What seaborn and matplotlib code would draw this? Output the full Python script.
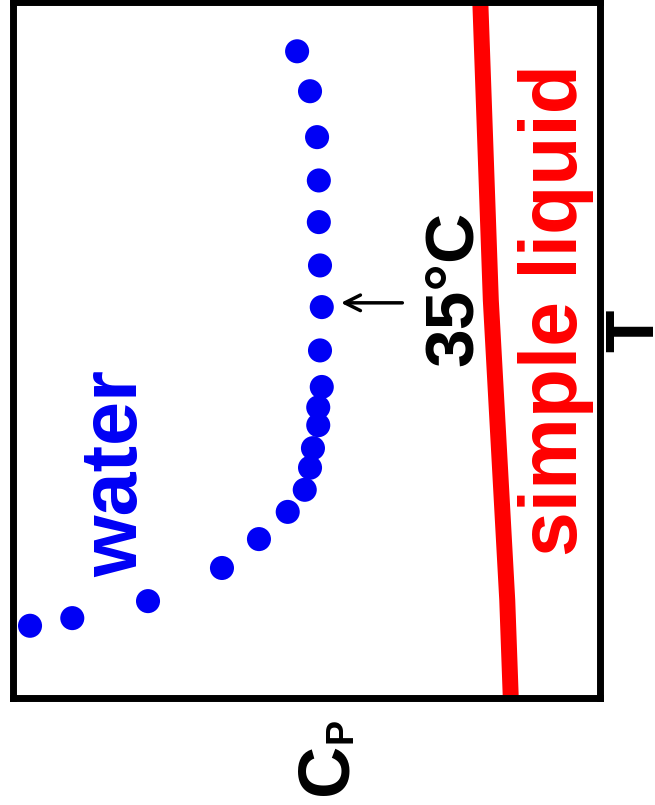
import matplotlib
matplotlib.use("Agg")
import matplotlib.pyplot as plt
import seaborn as sns
import pandas as pd

# water heat capacity points (T in degC, Cp in arbitrary units)
water_T = [65.1, 60.4, 55.0, 49.9, 45.0, 39.9, 35.0, 29.9, 25.6, 23.2,
           21.1, 18.4, 16.1, 13.5, 10.9, 7.7, 4.3, 0.4, -1.6, -2.5]
water_cp = [5.16, 4.94, 4.82, 4.79, 4.79, 4.77, 4.74, 4.77, 4.74, 4.80,
            4.80, 4.89, 4.94, 5.03, 5.32, 5.81, 6.44, 7.70, 8.99, 9.71]

# simple liquid reference line
simple_T = [-11.0, 0.5, 35.8, 71.1]
simple_cp = [1.52, 1.58, 1.86, 2.04]

water = pd.DataFrame({"T": water_T, "Cp": water_cp})
simple = pd.DataFrame({"T": simple_T, "Cp": simple_cp})

sns.set_theme(style="white")
plt.rcParams["font.family"] = ["Liberation Sans", "DejaVu Sans"]

fig = plt.figure(figsize=(6.55, 8.05), dpi=100)
ax = fig.add_axes([13 / 655, 1 - 698 / 805, 587 / 655, 696 / 805])

# chart is drawn turned 90 degrees: Cp runs right-to-left, T runs upward
sns.lineplot(data=simple, x="Cp", y="T", sort=False, color="#ff0000",
             lw=11.5, solid_capstyle="butt", ax=ax)
sns.scatterplot(data=water, x="Cp", y="T", color="#0000f5", s=300,
                edgecolor="none", ax=ax, zorder=3)

ax.set_xlim(10, 0)
ax.set_ylim(-11.0, 70.9)
ax.set_xticks([])
ax.set_yticks([])
ax.set_xlabel("")
ax.set_ylabel("")
for sp in ax.spines.values():
    sp.set_color("black")
    sp.set_linewidth(5)
    sp.set_visible(True)

ax.annotate("", xy=(4.46, 35.5), xytext=(3.32, 35.5),
            arrowprops=dict(arrowstyle="->", lw=2.5, color="black",
                            mutation_scale=28))

ax.text(2.18, 37.2, "35°C", rotation=90, rotation_mode="anchor",
        ha="center", va="baseline", fontsize=50, fontweight="bold",
        color="black")
ax.text(7.89, 15.4, "water", rotation=90, rotation_mode="anchor",
        ha="center", va="baseline", fontsize=57, fontweight="bold",
        color="#0000f5")
ax.text(0.39, 34.6, "simple liquid", rotation=90, rotation_mode="anchor",
        ha="center", va="baseline", fontsize=58, fontweight="bold",
        color="#ff0000")

fig.text(653 / 655, 1 - 331 / 805, "T", rotation=90, rotation_mode="anchor",
         ha="center", va="baseline", fontsize=50, fontweight="bold",
         color="black")
fig.text(347 / 655, 1 - 769 / 805, "C", rotation=90, rotation_mode="anchor",
         ha="center", va="baseline", fontsize=52, fontweight="bold",
         color="black")
fig.text(352 / 655, 1 - 730 / 805, "P", rotation=90, rotation_mode="anchor",
         ha="center", va="baseline", fontsize=27, fontweight="bold",
         color="black")

fig.savefig("out.png", dpi=100)
